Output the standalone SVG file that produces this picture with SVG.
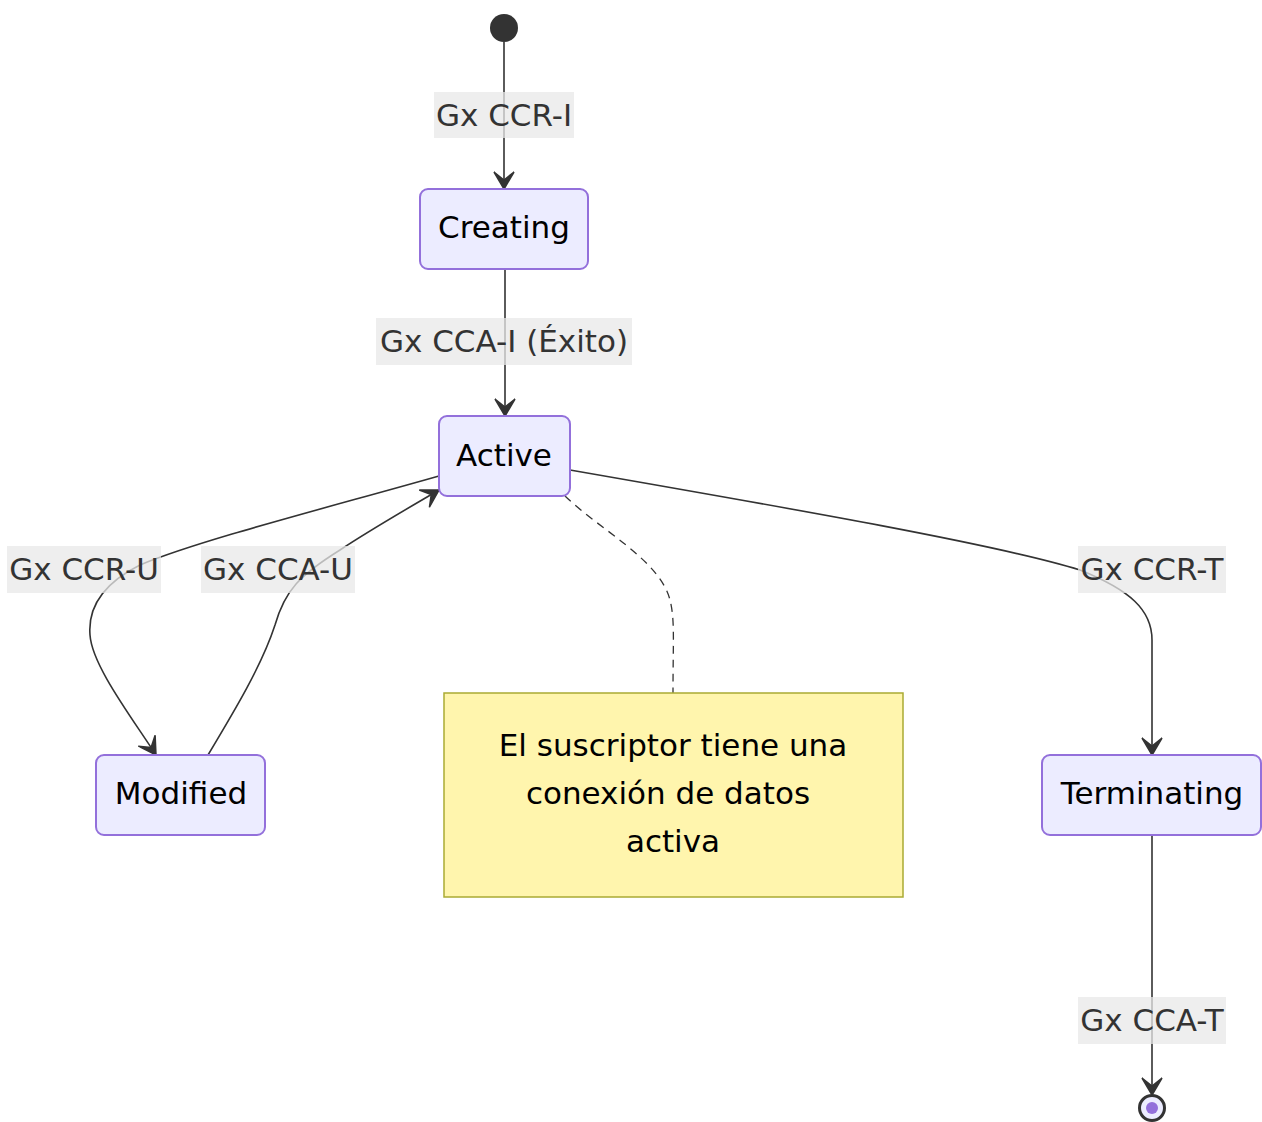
<svg xmlns="http://www.w3.org/2000/svg" width="1262" height="1122" viewBox="0 0 1262 1122">
<style>
.node rect{fill:#ECECFF;stroke:#9370DB;stroke-width:2}
.lbl{font-family:"DejaVu Sans",sans-serif;font-size:31px;fill:#333;text-anchor:middle;dominant-baseline:central}
.ntxt{font-family:"DejaVu Sans",sans-serif;font-size:31px;fill:#000;text-anchor:middle;dominant-baseline:central}
.lbg{fill:#E8E8E8;opacity:0.75}
.edge{fill:none;stroke:#333;stroke-width:1.6}
</style>
<defs>
<marker id="barb" viewBox="0 0 19 22" refX="18" refY="11" markerWidth="19" markerHeight="22" markerUnits="userSpaceOnUse" orient="auto">
<path d="M18,11 L1,1 L9,11 L1,21 Z" fill="#333" stroke="#333" stroke-width="1.5" stroke-linejoin="miter"/>
</marker>
</defs>
<g id="edges">
<path class="edge" d="M504,42 L504,189" marker-end="url(#barb)"/>
<path class="edge" d="M505,269 L505,416" marker-end="url(#barb)"/>
<path class="edge" d="M439,476 C 330,507 200,540 140,565 C 100,585 88,610 90,635 C 92,665 130,715 156,755" marker-end="url(#barb)"/>
<path class="edge" d="M208,755 C 235,710 262,665 275,625 C 285,590 300,575 340,550 C 370,530 405,510 439,490" marker-end="url(#barb)"/>
<path class="edge" d="M570,470 C 800,510 1000,545 1080,570 C 1130,590 1152,610 1152,640 L 1152,755" marker-end="url(#barb)"/>
<path class="edge" d="M1152,835 L1152,1095" marker-end="url(#barb)"/>
<path d="M565,496 C 600,530 660,560 670,600 C 675,620 673,640 673,693" fill="none" stroke="#333" stroke-width="1.3" stroke-dasharray="8,6"/>
</g>
<g id="edge-labels">
<rect class="lbg" x="434" y="92" width="140" height="46"/>
<text class="lbl" x="504" y="115">Gx CCR-I</text>
<rect class="lbg" x="376" y="318" width="256" height="47"/>
<text class="lbl" x="504" y="341">Gx CCA-I (Éxito)</text>
<rect class="lbg" x="7" y="546" width="154" height="47"/>
<text class="lbl" x="84" y="569">Gx CCR-U</text>
<rect class="lbg" x="201" y="546" width="154" height="47"/>
<text class="lbl" x="278" y="569">Gx CCA-U</text>
<rect class="lbg" x="1078" y="546" width="148" height="47"/>
<text class="lbl" x="1152" y="569">Gx CCR-T</text>
<rect class="lbg" x="1078" y="997" width="148" height="47"/>
<text class="lbl" x="1152" y="1020">Gx CCA-T</text>
</g>
<g id="start"><circle cx="504" cy="28" r="14" fill="#333"/></g>
<g id="Creating" class="node"><rect x="420" y="189" width="168" height="80" rx="8"/><text class="ntxt" x="504" y="227">Creating</text></g>
<g id="Active" class="node"><rect x="439" y="416" width="131" height="80" rx="8"/><text class="ntxt" x="504" y="455">Active</text></g>
<g id="Modified" class="node"><rect x="96" y="755" width="169" height="80" rx="8"/><text class="ntxt" x="181" y="793">Modified</text></g>
<g id="Terminating" class="node"><rect x="1042" y="755" width="219" height="80" rx="8"/><text class="ntxt" x="1152" y="793">Terminating</text></g>
<g id="note">
<rect x="444" y="693" width="459" height="204" fill="#FFF5AD" stroke="#AAAA33" stroke-width="1.5"/>
<text class="ntxt" x="673" y="745">El suscriptor tiene una</text>
<text class="ntxt" x="668" y="793">conexión de datos</text>
<text class="ntxt" x="673" y="841">activa</text>
</g>
<g id="end">
<circle cx="1152" cy="1108" r="12.5" fill="#ECECFF" stroke="#333" stroke-width="3"/>
<circle cx="1152" cy="1108" r="6" fill="#9370DB"/>
</g>
</svg>
